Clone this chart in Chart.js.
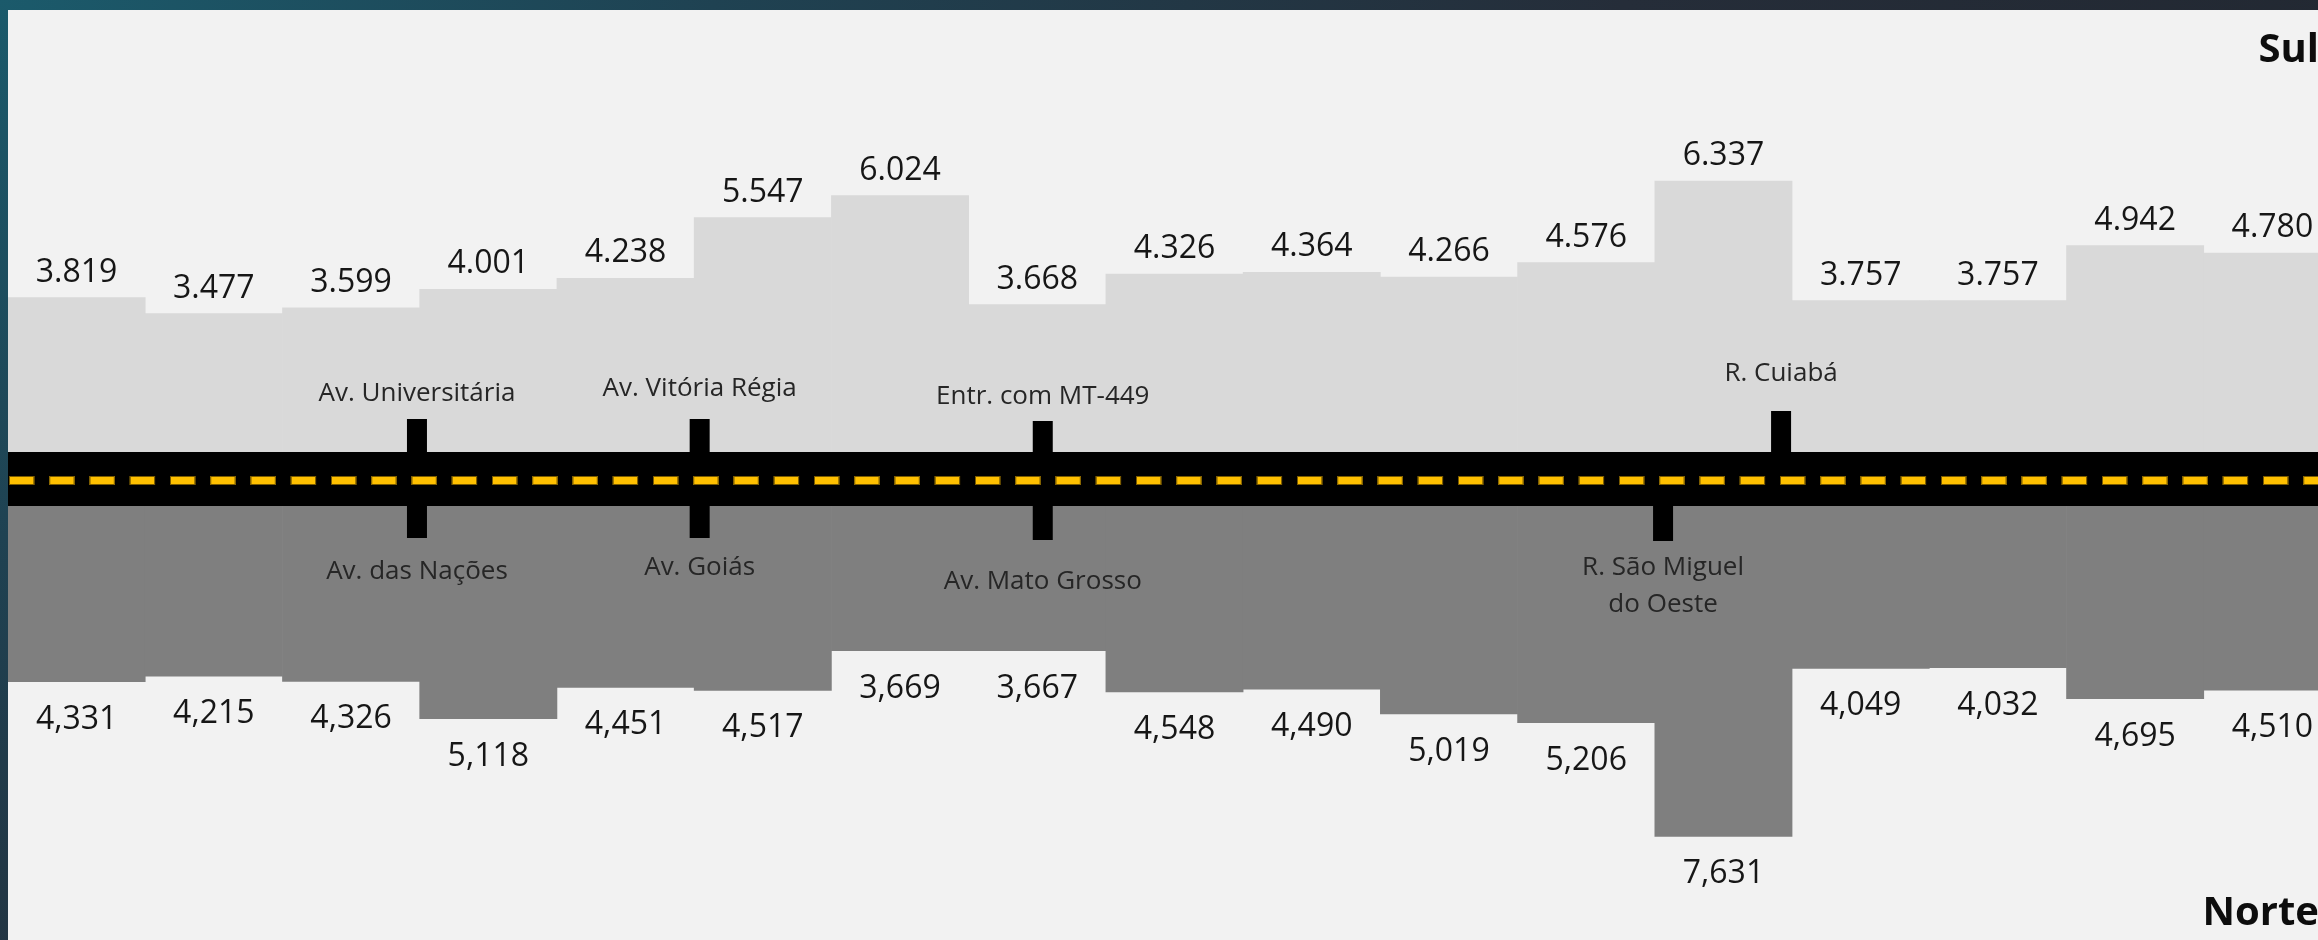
<!DOCTYPE html>
<html><head><meta charset="utf-8">
<script src="https://cdn.jsdelivr.net/npm/chart.js@4.4.0/dist/chart.umd.min.js"></script>
<style>
html,body{margin:0;padding:0;width:2318px;height:940px;overflow:hidden;
background: radial-gradient(ellipse 140% 260% at 0% 0%, #1b5a6b 0%, #1f4252 22%, #252d39 50%, #1f232a 100%);}
#wrap{position:absolute;left:0;top:0;width:2341px;height:940px;}
canvas{display:block;}
</style></head>
<body><div id="wrap"><canvas id="c" width="2341" height="940"></canvas></div>
<script>
// ---- data ----
const segments = ['1','2','3','4','5','6','7','8','9','10','11','12','13','14','15','16','17'];
const sulValues = [3.819, 3.477, 3.599, 4.001, 4.238, 5.547, 6.024, 3.668, 4.326, 4.364, 4.266, 4.576, 6.337, 3.757, 3.757, 4.942, 4.780];
const norteValues = [4.331, 4.215, 4.326, 5.118, 4.451, 4.517, 3.669, 3.667, 4.548, 4.490, 5.019, 5.206, 7.631, 4.049, 4.032, 4.695, 4.510];
const crossPos = [2.98, 5.04, 7.54, 12.92, 12.06];           // position along the road, in segment units
const crossTopNames = ['Av. Universitária', 'Av. Vitória Régia', 'Entr. com MT-449', 'R. Cuiabá', null];
const crossBottomNames = ['Av. das Nações', 'Av. Goiás', 'Av. Mato Grosso', null, ['R. São Miguel', 'do Oeste']];
const sideTop = 'Sul';
const sideBottom = 'Norte';

// ---- layout / style ----
const LAYOUT = {
  roadTop: 452, roadBottom: 506,
  markerW: 20,
  markerTopY: [419, 419, 421, 411, null],
  markerBottomY: [538, 538, 540, null, 541],
  topLabelY: [394, 389, 397, 374, null],
  bottomLabelY: [572, 568, 582, null, 568],
  lineGap: 37,
  dashStart: 9, dashPeriod: 40.25, dashLen: 25.3, dashTop: 476, dashH: 9
};
const FONT = '"Open Sans", "Noto Sans", sans-serif';

function fmt(v, sep) { return v.toFixed(3).replace('.', sep); }

const roadPlugin = {
  id: 'road',
  beforeDraw(chart) {
    const ctx = chart.ctx, a = chart.chartArea;
    ctx.save();
    ctx.fillStyle = '#f2f2f2';
    ctx.fillRect(a.left, a.top, a.right - a.left, a.bottom - a.top);
    ctx.restore();
  },
  afterDatasetsDraw(chart) {
    const ctx = chart.ctx, a = chart.chartArea, xs = chart.scales.x;
    const n = segments.length;
    const w = (xs.right - xs.left) / n;
    const x0 = xs.getPixelForValue(0) - w / 2;
    ctx.save();
    // road
    ctx.fillStyle = '#000000';
    ctx.fillRect(a.left, LAYOUT.roadTop, a.right - a.left, LAYOUT.roadBottom - LAYOUT.roadTop);
    // dashes
    ctx.fillStyle = '#FFC000';
    ctx.strokeStyle = '#7a5b00';
    ctx.lineWidth = 1;
    for (let x = LAYOUT.dashStart; x < a.right; x += LAYOUT.dashPeriod) {
      ctx.fillRect(x, LAYOUT.dashTop, LAYOUT.dashLen, LAYOUT.dashH);
      ctx.strokeRect(x + 0.5, LAYOUT.dashTop + 0.5, LAYOUT.dashLen - 1, LAYOUT.dashH - 1);
    }
    // cross street markers + labels
    ctx.fillStyle = '#000000';
    crossPos.forEach((p, i) => {
      const cx = x0 + p * w;
      if (LAYOUT.markerTopY[i] != null) {
        ctx.fillRect(cx - LAYOUT.markerW / 2, LAYOUT.markerTopY[i], LAYOUT.markerW, LAYOUT.roadTop - LAYOUT.markerTopY[i] + 1);
      }
      if (LAYOUT.markerBottomY[i] != null) {
        ctx.fillRect(cx - LAYOUT.markerW / 2, LAYOUT.roadBottom - 1, LAYOUT.markerW, LAYOUT.markerBottomY[i] - LAYOUT.roadBottom + 1);
      }
    });
    ctx.fillStyle = '#262626';
    ctx.font = '26px ' + FONT;
    ctx.textAlign = 'center';
    ctx.textBaseline = 'middle';
    crossPos.forEach((p, i) => {
      const cx = x0 + p * w;
      if (crossTopNames[i]) ctx.fillText(crossTopNames[i], cx, LAYOUT.topLabelY[i]);
      const b = crossBottomNames[i];
      if (b) {
        const lines = Array.isArray(b) ? b : [b];
        lines.forEach((t, k) => ctx.fillText(t, cx, LAYOUT.bottomLabelY[i] + k * LAYOUT.lineGap));
      }
    });
    // value labels
    ctx.fillStyle = '#161616';
    ctx.font = '32px ' + FONT;
    ctx.textBaseline = 'alphabetic';
    chart.getDatasetMeta(0).data.forEach((el, i) => {
      ctx.fillText(fmt(sulValues[i], '.'), el.x, el.y - 16);
    });
    chart.getDatasetMeta(1).data.forEach((el, i) => {
      ctx.fillText(fmt(norteValues[i], ','), el.x, el.y + 47);
    });
    // side labels
    ctx.font = 'bold 40px ' + FONT;
    ctx.fillStyle = '#0d0d0d';
    ctx.textAlign = 'right';
    ctx.fillText(sideTop, 2319, 62);
    ctx.fillText(sideBottom, 2319, 925);
    ctx.restore();
  }
};

new Chart(document.getElementById('c'), {
  type: 'bar',
  data: {
    labels: segments,
    datasets: [
      { label: sideTop, data: sulValues, yAxisID: 'ySul', backgroundColor: '#d9d9d9',
        grouped: false, barPercentage: 1, categoryPercentage: 1, borderWidth: 0 },
      { label: sideBottom, data: norteValues.map(v => -v), yAxisID: 'yNorte', backgroundColor: '#7f7f7f',
        grouped: false, barPercentage: 1, categoryPercentage: 1, borderWidth: 0 }
    ]
  },
  options: {
    responsive: false, animation: false, devicePixelRatio: 1,
    layout: { padding: { left: 8, top: 10, right: 0, bottom: 0 } },
    plugins: { legend: { display: false }, tooltip: { enabled: false } },
    scales: {
      x: { display: false },
      ySul: { display: false, min: -10.054, max: 10.032 },
      yNorte: { display: false, min: -9.838, max: 9.991 }
    }
  },
  plugins: [roadPlugin]
});
</script>
</body></html>
